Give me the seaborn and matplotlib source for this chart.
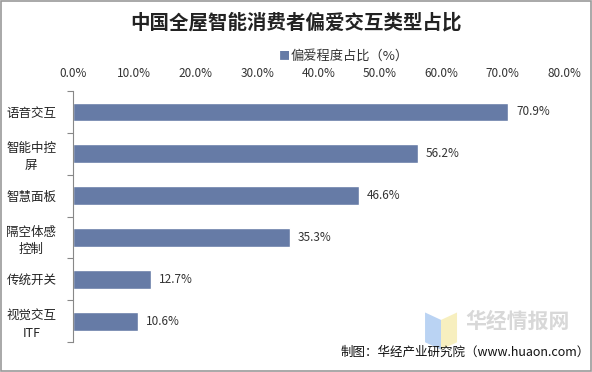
import pandas as pd
import numpy as np
import matplotlib.pyplot as plt
import seaborn as sns

# Data
categories = ['语音交互', '智能中控\n屏', '智慧面板', '隔空体感\n控制', '传统开关', '视觉交互\nITF']
shares = [70.9, 56.2, 46.6, 35.3, 12.7, 10.6]
x_ticks = [0, 10, 20, 30, 40, 50, 60, 70, 80]

sns.set_theme(style='white')
plt.rcParams['font.family'] = ['Noto Sans CJK SC', 'DejaVu Sans']

df = pd.DataFrame({'category': categories, 'share': shares})

fig = plt.figure(figsize=(5.92, 3.72), dpi=100)
ax = fig.add_axes([0.1233, 0.0806, 0.8294, 0.6747])

bar_color = '#667ba6'
sns.barplot(data=df, x='share', y='category', orient='h', color=bar_color,
            width=0.45, saturation=1, ax=ax)

ax.set_xlim(0, 80)
ax.set_ylim(5.5, -0.5)
ax.set_xticks(x_ticks)
ax.set_xticklabels([f'{t:.1f}%' for t in x_ticks], fontsize=8.5, color='#333333')
ax.xaxis.tick_top()
ax.tick_params(axis='x', length=0, pad=8)
ax.set_xlabel('')
ax.set_ylabel('')

# category labels, centred multi-line
ax.set_yticks(range(len(categories)))
ax.set_yticklabels(categories, fontsize=9, color='#222222', ha='center',
                   multialignment='center', linespacing=1.4)
ax.tick_params(axis='y', length=0, pad=30)
ax.set_yticks(np.arange(-0.5, len(categories), 1), minor=True)
ax.tick_params(axis='y', which='minor', length=4, color='#888888', width=0.8, left=True)

for s in ['top', 'right', 'bottom']:
    ax.spines[s].set_visible(False)
ax.spines['left'].set_color('#888888')
ax.spines['left'].set_linewidth(0.8)

for i, v in enumerate(shares):
    ax.text(v + 1.3, i, f'{v:.1f}%', va='center', ha='left', fontsize=8.5, color='#333333')

fig.text(0.5, 0.94, '中国全屋智能消费者偏爱交互类型占比', ha='center', va='center',
         fontsize=14, fontweight='bold', color='#222222')
fig.text(0.49, 0.848, '■', ha='right', va='center', fontsize=8, color=bar_color)
fig.text(0.49, 0.848, '偏爱程度占比（%）', ha='left', va='center', fontsize=9.5, color='#333333')

# watermark logo (two faint panels) and text
fig.patches.append(plt.Polygon([(0.718, 0.160), (0.745, 0.140), (0.745, 0.060), (0.718, 0.080)],
                               closed=True, transform=fig.transFigure,
                               facecolor='#a9c8f0', edgecolor='none', alpha=0.8))
fig.patches.append(plt.Polygon([(0.745, 0.140), (0.772, 0.160), (0.772, 0.080), (0.745, 0.060)],
                               closed=True, transform=fig.transFigure,
                               facecolor='#f5ecb0', edgecolor='none', alpha=0.8))
fig.text(0.875, 0.135, '华经情报网', ha='center', va='center', fontsize=15,
         fontweight='bold', color='#d8d8d8')
fig.text(0.575, 0.052, '制图：华经产业研究院（www.huaon.com）', ha='left', va='center',
         fontsize=9, color='#111111')

fig.patches.append(plt.Rectangle((0.002, 0.003), 0.996, 0.994, transform=fig.transFigure,
                                 fill=False, edgecolor='#999999', linewidth=1.2))

fig.savefig('out.png', dpi=100)
